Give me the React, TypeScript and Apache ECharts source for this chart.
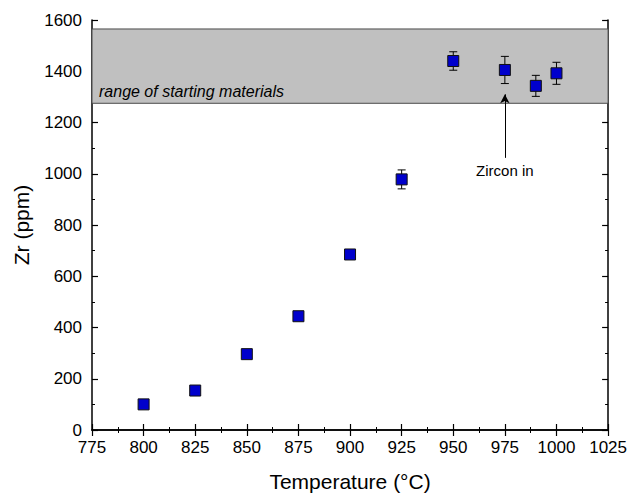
import React, { useEffect, useRef } from "react";
import * as echarts from "echarts";

const temps = [800, 825, 850, 875, 900, 925, 950, 975, 990, 1000];
const zr = [100, 154, 296, 444, 685, 978, 1440, 1405, 1343, 1392];
const zrErr = [0, 0, 0, 0, 0, 37, 36, 53, 41, 43];
const bandRange = [1275, 1565];
const bandLabel = "range of starting materials";
const bandLabelAt = [775, 1320];
const arrowFrom = [975, 1062];
const arrowTo = [975, 1310];
const arrowLabel = "Zircon in";
const xTicks = { min: 775, max: 1025, interval: 25 };
const yTicks = { min: 0, max: 1600, interval: 200 };

const FONT = "'Liberation Sans', Arial, sans-serif";

export default function App() {
  const ref = useRef<HTMLDivElement>(null);
  useEffect(() => {
    if (!ref.current) return;
    const chart = echarts.init(ref.current, null, { renderer: "svg" });
    const points = temps.map((t, i) => [t, zr[i]]);
    const errData = temps
      .map((t, i) => [t, zr[i] - zrErr[i], zr[i] + zrErr[i], zrErr[i]])
      .filter((d) => d[3] > 0);
    const axisLine = { show: true, lineStyle: { color: "#000", width: 1.5 } };
    const axisTick = { show: true, inside: true, length: 6, lineStyle: { color: "#000", width: 1.2 } };
    const minorTick = { show: true, splitNumber: 2, length: 3, lineStyle: { color: "#000", width: 1 } };
    const fmt = (v: number) => String(v);
    chart.setOption({
      animation: false,
      grid: { left: 92, right: 21, top: 20, bottom: 61, containLabel: false },
      xAxis: [
        {
          type: "value", position: "bottom", ...xTicks,
          axisLine, axisTick, minorTick, splitLine: { show: false },
          axisLabel: { color: "#000", fontSize: 17, fontFamily: FONT, margin: 9, formatter: fmt },
          name: "Temperature (°C)", nameLocation: "middle", nameGap: 41,
          nameTextStyle: { color: "#000", fontSize: 21, fontFamily: FONT },
        },
        {
          type: "value", position: "top", ...xTicks,
          axisLine, axisTick, minorTick, splitLine: { show: false },
          axisLabel: { show: false },
        },
      ],
      yAxis: [
        {
          type: "value", position: "left", ...yTicks,
          axisLine, axisTick, minorTick, splitLine: { show: false },
          axisLabel: { color: "#000", fontSize: 17, fontFamily: FONT, margin: 10, formatter: fmt },
          name: "Zr (ppm)", nameLocation: "middle", nameGap: 60,
          nameTextStyle: { color: "#000", fontSize: 21, fontFamily: FONT },
        },
        {
          type: "value", position: "right", ...yTicks,
          axisLine, axisTick, minorTick, splitLine: { show: false },
          axisLabel: { show: false },
        },
      ],
      series: [
        {
          type: "scatter",
          data: [],
          z: 1,
          markArea: {
            silent: true,
            itemStyle: { color: "#c0c0c0", borderColor: "#4a4a4a", borderWidth: 1 },
            label: { show: false },
            data: [[{ yAxis: bandRange[0] }, { yAxis: bandRange[1] }]],
          },
          markPoint: {
            silent: true,
            symbol: "circle",
            symbolSize: 0,
            label: {
              show: true, position: "right", distance: 7,
              fontStyle: "italic", fontSize: 16, fontFamily: FONT, color: "#000",
              formatter: bandLabel,
            },
            data: [{ coord: bandLabelAt }],
          },
        },
        {
          type: "custom",
          z: 3,
          data: errData,
          renderItem: (params: any, api: any) => {
            const x = api.value(0);
            const lo = api.coord([x, api.value(1)]);
            const hi = api.coord([x, api.value(2)]);
            const cap = 4;
            const style = { stroke: "#000", lineWidth: 1 };
            return {
              type: "group",
              children: [
                { type: "line", shape: { x1: lo[0], y1: lo[1], x2: hi[0], y2: hi[1] }, style },
                { type: "line", shape: { x1: lo[0] - cap, y1: lo[1], x2: lo[0] + cap, y2: lo[1] }, style },
                { type: "line", shape: { x1: hi[0] - cap, y1: hi[1], x2: hi[0] + cap, y2: hi[1] }, style },
              ],
            };
          },
        },
        {
          type: "scatter",
          z: 4,
          data: points,
          symbol: "rect",
          symbolSize: 11,
          itemStyle: { color: "#0000cc", borderColor: "#111", borderWidth: 1, opacity: 1 },
          markLine: {
            silent: true,
            symbol: ["none", "arrow"],
            symbolSize: [7, 9],
            lineStyle: { color: "#000", width: 1, type: "solid" },
            label: { show: false },
            data: [[{ coord: arrowFrom }, { coord: arrowTo }]],
          },
          markPoint: {
            silent: true,
            symbol: "circle",
            symbolSize: 0,
            label: {
              show: true, color: "#000", fontSize: 15, fontFamily: FONT,
              position: "bottom", distance: 5, formatter: arrowLabel,
            },
            data: [{ coord: arrowFrom }],
          },
        },
      ],
    });
    return () => chart.dispose();
  }, []);
  return (
    <div
      ref={ref}
      style={{ position: "fixed", left: 0, top: 0, width: 630, height: 497, background: "#fff" }}
    />
  );
}
